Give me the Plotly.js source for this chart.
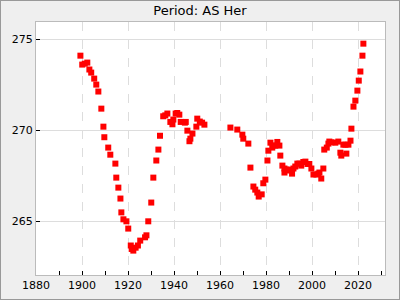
<!DOCTYPE html>
<html><head><meta charset="utf-8">
<script src="https://cdn.plot.ly/plotly-3.0.1.min.js"></script>
<style>
html,body{margin:0;padding:0;background:#efefef;}
#wrap{width:398px;height:298px;border:1px solid #999;}
#chart{width:398px;height:298px;}
</style></head>
<body><div id="wrap"><div id="chart"></div></div>
<script>
const years = [1899.3,1900.1,1901.2,1902.3,1903.2,1904.0,1905.3,1906.2,1907.1,1908.4,1909.3,1909.7,1911.4,1912.3,
1914.5,1914.9,1915.8,1916.7,1917.1,1918.0,1919.3,1920.1,
1921.2,1921.6,1922.3,1923.3,1924.3,1925.3,1927.4,1928.0,1928.8,1930.1,1931.0,1932.3,1933.2,1933.9,
1935.3,1936.2,1937.1,1938.4,1939.3,1939.7,1940.7,1941.4,1942.3,1942.9,1944.7,1945.1,1945.8,1946.7,1947.1,1948.0,1949.7,1950.1,1951.2,1952.2,1953.2,
1964.5,1967.5,1969.7,1970.1,1972.3,1973.2,1974.5,1975.3,1976.2,1976.8,1978.1,1978.8,1979.7,1980.6,1981.0,1981.9,
1982.7,1983.3,1984.0,1984.9,1985.8,1986.2,1987.1,1988.0,1988.0,1988.8,1989.7,1990.4,1991.3,1991.9,1992.7,1993.6,1994.5,1995.3,1996.2,1997.1,1998.0,1998.8,1999.7,
2000.6,2001.9,2002.7,2003.2,2004.0,2004.9,2005.3,2006.4,2007.1,2007.5,2008.4,2010.1,2011.4,2012.3,2012.7,2013.6,2014.5,2014.9,2015.8,2016.7,
2017.1,2018.0,2018.8,2019.7,2020.3,2021.0,2021.9,2022.3];
const periods = [274.10,273.61,273.66,273.72,273.34,273.17,272.84,272.51,272.13,271.19,270.20,269.62,269.05,268.66,
268.17,267.40,266.85,266.25,265.49,265.11,265.00,264.60,
263.67,263.48,263.39,263.55,263.67,263.94,264.12,264.23,265.00,266.03,267.40,268.34,268.94,269.70,
270.77,270.82,270.92,270.46,270.33,270.59,270.92,270.95,270.86,270.46,270.42,270.46,269.98,269.40,269.54,269.82,270.20,270.64,270.48,270.42,270.31,
270.15,270.04,269.76,269.54,269.27,267.95,266.91,266.74,266.58,266.36,266.48,267.09,267.29,268.34,268.88,269.32,
269.05,269.16,269.16,269.36,269.16,268.61,268.06,267.90,267.68,267.84,267.79,267.84,267.62,267.90,268.01,268.17,268.17,268.06,268.26,268.28,268.15,268.15,267.90,
267.57,267.57,267.62,267.68,267.35,267.90,268.94,269.05,269.27,269.38,269.34,269.32,269.38,268.77,268.61,269.21,269.21,268.72,269.21,269.43,
270.09,271.30,271.63,272.18,272.73,273.23,274.10,274.76];
const titleText = 'Period: AS Her';
const xTickVals = [1880,1900,1920,1940,1960,1980,2000,2020];
const yTickVals = [265,270,275];

Plotly.newPlot('chart', [{
  x: years, y: periods, type: 'scatter', mode: 'markers',
  marker: {symbol: 'square', size: 6, color: '#ff0000'},
  hoverinfo: 'skip'
}], {
  width: 398, height: 298,
  paper_bgcolor: '#efefef', plot_bgcolor: '#ffffff',
  margin: {l: 35, r: 14, t: 21, b: 24},
  font: {family: 'DejaVu Sans', size: 11, color: '#000'},
  title: {text: titleText, font: {family: 'DejaVu Sans', size: 13, color: '#000'}, x: 0.5, xanchor: 'center', y: 0.985, yanchor: 'top'},
  showlegend: false,
  xaxis: {
    range: [1880, 2031.7], tickvals: xTickVals, ticktext: xTickVals.map(String),
    ticks: 'inside', ticklen: 4, tickcolor: '#000', tickwidth: 1,
    minor: {dtick: 10, tick0: 1880, ticks: 'inside', ticklen: 4, tickcolor: '#000', showgrid: false},
    showgrid: true, gridcolor: '#dddddd', griddash: 'dash', gridwidth: 1,
    zeroline: false, showline: true, mirror: true, linecolor: '#bbbbbb', linewidth: 1,
    tickfont: {family: 'DejaVu Sans', size: 11}
  },
  yaxis: {
    range: [262.05, 275.95], tickvals: yTickVals, ticktext: yTickVals.map(String),
    ticks: 'inside', ticklen: 4, tickcolor: '#000', tickwidth: 1,
    showgrid: true, gridcolor: '#dddddd', gridwidth: 1,
    zeroline: false, showline: true, mirror: true, linecolor: '#bbbbbb', linewidth: 1,
    tickfont: {family: 'DejaVu Sans', size: 11}
  }
}, {displayModeBar: false, staticPlot: true});
</script></body></html>
